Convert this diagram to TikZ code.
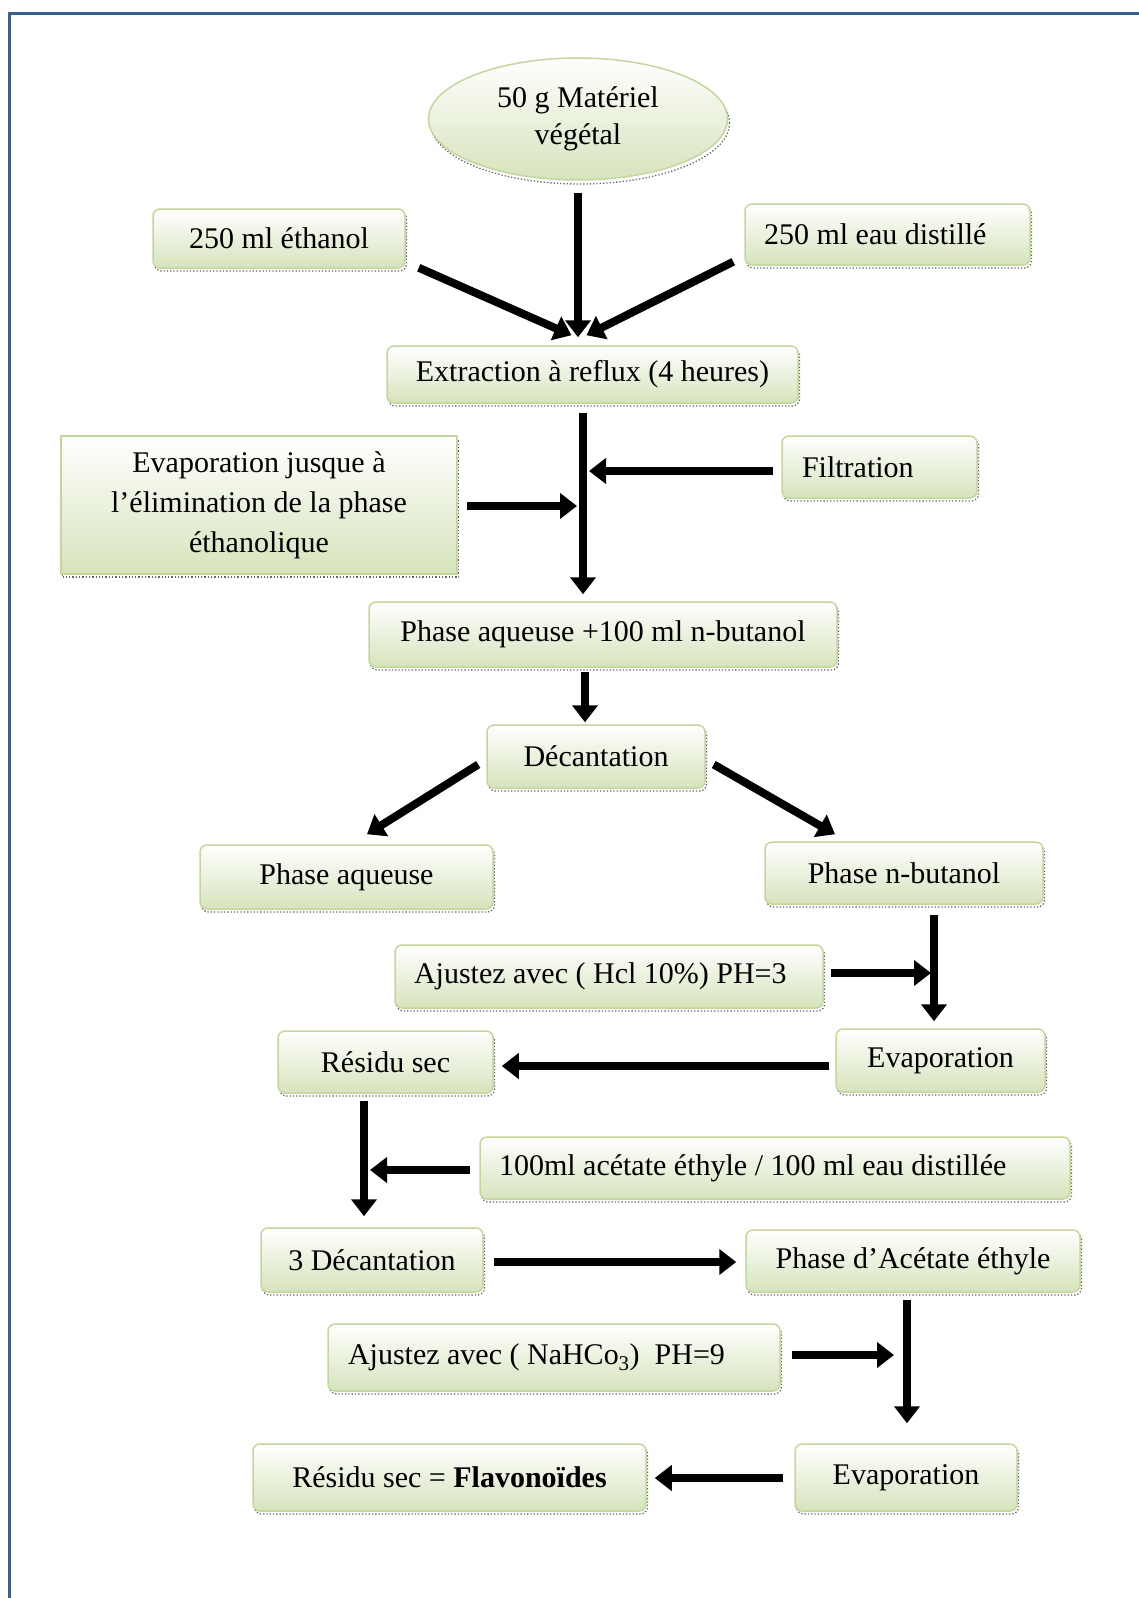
\documentclass[tikz,border=0pt]{standalone}
\usepackage{fontspec}
\setmainfont{Liberation Serif}
\usetikzlibrary{shapes.geometric,arrows.meta,calc}
\definecolor{bxfill}{RGB}{214,227,188}
\definecolor{bxborder}{RGB}{195,214,155}
\definecolor{framec}{RGB}{58,95,143}
\newcommand\fsz{\fontsize{30pt}{40pt}\selectfont}
\tikzset{
  box/.style={draw=bxborder, line width=1.5pt, rounded corners=7pt,
    top color=white, bottom color=bxfill, font=\fsz, align=center, inner sep=0pt,
    preaction={draw=black!60, dotted, line width=1.3pt, transform canvas={shift={(1.5pt,-3pt)}}}},
  ellbox/.style={ellipse, draw=bxborder, line width=1.5pt,
    top color=white, bottom color=bxfill, font=\fontsize{30pt}{37pt}\selectfont, align=center, inner sep=0pt,
    preaction={draw=black!60, dotted, line width=1.3pt, transform canvas={shift={(2pt,-4pt)}}}},
  arr/.style={line width=8pt, -{Triangle[length=17pt,width=25pt]}},
}
\begin{document}
\begin{tikzpicture}[x=1pt,y=-1pt]
\useasboundingbox (0,0) rectangle (1139,1598);
\draw[framec, line width=3pt] (9,1598) -- (9,13) -- (1139,13);

\node[ellbox, minimum width=299, minimum height=122] (ell) at (578,119) {50 g Matériel\\végétal};
\node[box, minimum width=252, minimum height=59] (eth) at (279,238.5) {250 ml éthanol};
\node[box, minimum height=61, text width=247, inner xsep=19pt, align=flush left] (eau) at (887.5,234.5) {250 ml eau distillé};
\node[box, minimum width=411, minimum height=57] (ext) at (592.5,374.5) {Extraction à reflux (4 heures)};
\node[box, sharp corners, minimum width=396, minimum height=138] (evj) at (259,505) {Evaporation jusque à\\l’élimination de la phase\\éthanolique};
\node[box, minimum height=62, text width=155, inner xsep=20pt, align=flush left] (fil) at (879.5,467) {Filtration};
\node[box, minimum width=468, minimum height=65] (pab) at (603,634.5) {Phase aqueuse +100 ml n-butanol};
\node[box, minimum width=218, minimum height=63] (dec) at (596,756.5) {Décantation};
\node[box, minimum width=293, minimum height=64] (paq) at (346.5,877) {Phase aqueuse};
\node[box, minimum width=278, minimum height=62] (pnb) at (904,873) {Phase n-butanol};
\node[box, minimum height=63, text width=390, inner xsep=19pt, align=flush left] (hcl) at (609,976.5) {Ajustez avec ( Hcl 10\%) PH=3};
\node[box, minimum width=215, minimum height=62] (rs1) at (385.5,1062) {Résidu sec};
\node[box, minimum width=209, minimum height=63] (ev1) at (940.5,1060.5) {Evaporation};
\node[box, minimum height=62, text width=552, inner xsep=19pt, align=flush left] (ace) at (775,1168) {100ml acétate éthyle / 100 ml eau distillée};
\node[box, minimum width=222, minimum height=64] (d3) at (372,1260) {3 Décantation};
\node[box, minimum width=334, minimum height=62] (pae) at (913,1261) {Phase d’Acétate éthyle};
\node[box, minimum height=67, text width=412, inner xsep=20pt, align=flush left] (nah) at (554,1357.5) {Ajustez avec ( NaHCo\textsubscript{3})\ \ PH=9};
\node[box, minimum width=393, minimum height=67] (rsf) at (449.5,1477.5) {Résidu sec = \textbf{Flavonoïdes}};
\node[box, minimum width=222, minimum height=67] (ev2) at (906,1477.5) {Evaporation};

\coordinate (j1) at (589,471);
\coordinate (j2) at (577,506);
\coordinate (j3) at (931,973);
\coordinate (j4) at (370,1170);
\coordinate (j5) at (894,1355);

\draw[arr] ($(ell.south)+(0,12)$) -- ($(ext.north)+(-14.5,-8)$);
\draw[arr] ($(eth.south east)+(13,-1)$) -- ($(ext.north)+(-21,-10)$);
\draw[arr] ($(eau.south west)+(-11,-4)$) -- ($(ext.north)+(-6,-10)$);
\draw[arr] ($(ext.south)+(-9.5,9)$) -- ($(pab.north)+(-20,-7)$);
\draw[arr] ($(fil.west)+(-8,4)$) -- (j1);
\draw[arr] ($(evj.east)+(9,1)$) -- (j2);
\draw[arr] ($(pab.south)+(-18,4)$) -- ($(dec.north)+(-11,-2)$);
\draw[arr] ($(dec.west)+(-8,8)$) -- ($(paq.north)+(20.5,-10)$);
\draw[arr] ($(dec.east)+(8,8)$) -- ($(pnb.north)+(-69,-7)$);
\draw[arr] ($(pnb.south)+(30,10)$) -- ($(ev1.north)+(-6.5,-7)$);
\draw[arr] ($(hcl.east)+(7,-3.5)$) -- (j3);
\draw[arr] ($(ev1.west)+(-6,5.5)$) -- ($(rs1.east)+(8,4)$);
\draw[arr] ($(rs1.south)+(-21.5,7)$) -- ($(d3.north)+(-8,-11)$);
\draw[arr] ($(ace.west)+(-9,2)$) -- (j4);
\draw[arr] ($(d3.east)+(10,2)$) -- ($(pae.west)+(-9,1)$);
\draw[arr] ($(pae.south)+(-6,7)$) -- ($(ev2.north)+(1,-20)$);
\draw[arr] ($(nah.east)+(11,-2.5)$) -- (j5);
\draw[arr] ($(ev2.west)+(-11,0.5)$) -- ($(rsf.east)+(8,0.5)$);
\end{tikzpicture}
\end{document}
